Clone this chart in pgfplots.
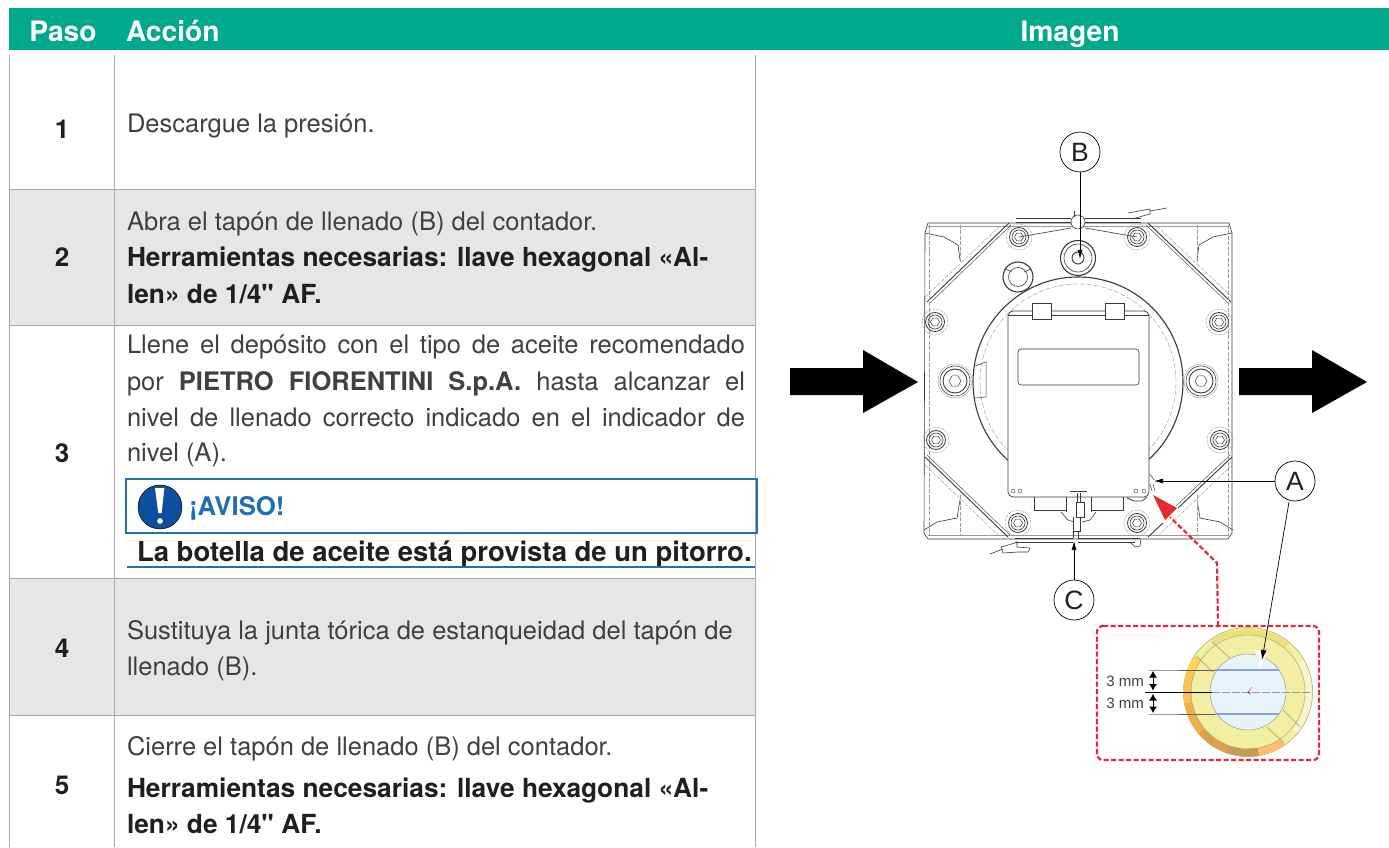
\documentclass[border=0pt]{standalone}
\usepackage{fontspec}
\setmainfont{TeX Gyre Heros}
\newfontfamily\arialf{Liberation Sans}
\newfontfamily\qf{TeX Gyre Heros}
\usepackage{pgfplots}
\pgfplotsset{compat=1.18}
\usetikzlibrary{arrows.meta}
\definecolor{hdr}{HTML}{00A88C}
\definecolor{rowg}{HTML}{E5E6E7}
\definecolor{rul}{HTML}{A9A9A9}
\definecolor{txt}{HTML}{404040}
\definecolor{txb}{HTML}{1F1F1F}
\definecolor{blu}{HTML}{1E70B4}
\definecolor{dblu}{HTML}{0D4F9E}
\definecolor{redd}{HTML}{E32B2E}
\definecolor{dr}{HTML}{3A3A3A}
\definecolor{dg}{HTML}{9A9A9A}
\definecolor{olv}{HTML}{ACAA7C}
\definecolor{ylb}{HTML}{F2EEA2}
\definecolor{yld}{HTML}{E8E27C}
\definecolor{yll}{HTML}{F7F5CC}
\definecolor{oa}{HTML}{FFD45E}
\definecolor{ob}{HTML}{FCC355}
\definecolor{oc}{HTML}{F2AE48}
\definecolor{od}{HTML}{DFA04A}
\definecolor{oe}{HTML}{C99A52}
\definecolor{of}{HTML}{FDBF6A}
\definecolor{cyn}{HTML}{E6F3F8}
\definecolor{bll}{HTML}{8C9FD6}
\pgfdeclareplotmark{hexa}{%
 \pgfpathmoveto{\pgfpointpolar{0}{\pgfplotmarksize}}%
 \pgfpathlineto{\pgfpointpolar{60}{\pgfplotmarksize}}%
 \pgfpathlineto{\pgfpointpolar{120}{\pgfplotmarksize}}%
 \pgfpathlineto{\pgfpointpolar{180}{\pgfplotmarksize}}%
 \pgfpathlineto{\pgfpointpolar{240}{\pgfplotmarksize}}%
 \pgfpathlineto{\pgfpointpolar{300}{\pgfplotmarksize}}%
 \pgfpathclose\pgfusepathqstroke}
\newcommand\Ln[2][]{\addplot[forget plot,mark=none,dr,line width=.6pt,#1] coordinates {#2};}
\newcommand\Dd[1]{\addplot[forget plot,mark=none,dg,line width=.4pt,dash pattern=on 4pt off 1.5pt] coordinates {#1};}
\newcommand\Pg[2]{\addplot[forget plot,mark=none,draw=none,fill=#1] coordinates {#2} --cycle;}
\newcommand\Ring[4][]{\addplot[forget plot,only marks,mark=o,mark size=#4pt,mark options={draw=dr,line width=.6pt,solid,#1}] coordinates {(#2,#3)};}
\newcommand\Disc[5][]{\addplot[forget plot,only marks,mark=*,mark size=#4pt,mark options={draw=dr,fill=#5,line width=.6pt,solid,#1}] coordinates {(#2,#3)};}
\newcommand\Hex[3]{\addplot[forget plot,only marks,mark=hexa,mark size=#3pt,mark options={draw=dr,line width=.5pt,solid}] coordinates {(#1,#2)};}
\newcommand\Bolt[2]{\Ring[draw=dg,line width=.4pt,dash pattern=on 3pt off 1pt]{#1}{#2}{13}\Ring[line width=.8pt]{#1}{#2}{9.5}\Ring{#1}{#2}{7}\Hex{#1}{#2}{4.5}}
\newcommand\Lug[2]{\Ring[draw=dg,line width=.4pt]{#1}{#2}{17}\Ring{#1}{#2}{15}\Ring[line width=.9pt]{#1}{#2}{12}\Hex{#1}{#2}{6}}
\newcommand\T[5][txt]{\node[anchor=base west,inner sep=0pt,outer sep=0pt,text=#1] at (axis cs:#2,#3) {\fontsize{#4}{#4}\selectfont #5};}
\newcommand\Tc[5][txt]{\node[anchor=base,inner sep=0pt,outer sep=0pt,text=#1] at (axis cs:#2,#3) {\fontsize{#4}{#4}\selectfont #5};}
\newcommand\J[2]{\node[anchor=base west,inner sep=0pt,outer sep=0pt,text=txt] at (axis cs:127,#1) {\fontsize{25.5}{25}\selectfont\hbox to 618pt{#2}};}
\begin{document}
\begin{tikzpicture}
\begin{axis}[scale only axis,width=1389pt,height=847pt,xmin=0,xmax=1389,ymin=0,ymax=847,y dir=reverse,hide axis,clip=false,clip marker paths=true]
% page background corners keep the bounding box
\addplot[forget plot,draw=none,mark=none,fill=white] coordinates {(0,0)(1389,0)(1389,847)(0,847)} --cycle;
% header
\Pg{hdr}{(9,8)(1389,8)(1389,50)(9,50)}
% shaded rows
\Pg{rowg}{(10,190)(755,190)(755,325)(10,325)}
\Pg{rowg}{(10,578)(755,578)(755,715)(10,715)}
% rules
\Ln[rul,line width=1pt]{(9.5,55)(9.5,847)}
\Ln[rul,line width=1pt]{(114.5,55)(114.5,847)}
\Ln[rul,line width=1pt]{(755,55)(755,847)}
\Ln[rul,line width=1pt]{(9,190)(755,190)}
\Ln[rul,line width=1pt]{(9,325)(755,325)}
\Ln[rul,line width=1pt]{(9,578)(755,578)}
\Ln[rul,line width=1pt]{(9,715)(755,715)}
% header text
\Tc[white]{63}{41.5}{28.2}{\textbf{Paso}}
\T[white]{126}{41.5}{28.2}{\textbf{Acción}}
\Tc[white]{1070}{41.5}{28.2}{\textbf{Imagen}}
% step numbers
\Tc[txb]{62}{139}{26}{\textbf{1}}
\Tc[txb]{62}{267}{26}{\textbf{2}}
\Tc[txb]{62}{462}{26}{\textbf{3}}
\Tc[txb]{62}{657}{26}{\textbf{4}}
\Tc[txb]{62}{794}{26}{\textbf{5}}
% body
\T{127}{133}{25.5}{Descargue la presión.}
\T{127}{231}{25.5}{Abra el tapón de llenado (B) del contador.}
\T[txb]{127}{267}{26.3}{\textbf{Herramientas necesarias: llave hexagonal «Al-}}
\T[txb]{127}{303}{26.3}{\textbf{len» de 1/4{\qf"} AF.}}
\J{353}{Llene el depósito con el tipo de aceite recomendado}
\J{390}{por \textbf{PIETRO FIORENTINI S.p.A.} hasta alcanzar el}
\J{426}{nivel de llenado correcto indicado en el indicador de}
\T{127}{461}{25.5}{nivel (A).}
% notice
\Ln[blu,line width=2pt]{(126,479)(757,479)(757,533)(126,533)(126,478)}
\Disc[draw=black,line width=.5pt]{160}{507}{22}{dblu}
\Pg{white}{(155,488)(164.3,488)(161.7,513)(158.3,513)}
\Disc[draw=white]{160}{521}{2.5}{white}
\T[blu]{189}{515}{25.7}{\textbf{¡AVISO!}}
\T[txb]{137}{561}{27.5}{\textbf{La botella de aceite está provista de un pitorro.}}
\Ln[blu,line width=2pt]{(127,567)(755,567)}
\T{127}{639}{25.5}{Sustituya la junta tórica de estanqueidad del tapón de}
\T{127}{675}{25.5}{llenado (B).}
\T{127}{755}{25.5}{Cierre el tapón de llenado (B) del contador.}
\T[txb]{127}{797}{26.3}{\textbf{Herramientas necesarias: llave hexagonal «Al-}}
\T[txb]{127}{833}{26.3}{\textbf{len» de 1/4{\qf"} AF.}}
% block arrows
\Pg{black}{(790,368)(863,368)(863,350)(918,382)(863,413)(863,395)(790,395)}
\Pg{black}{(1239,368)(1312,368)(1312,350)(1367,382)(1312,413)(1312,395)(1239,395)}
% meter body
\Ln{(925,233)(928,223)(1229,223)(1232,233)(1232,533)(1228,539)(928,539)(924,533)(925,233)}
\Ln[dg,line width=.5pt]{(928,226)(1229,226)}
\Ln[dg,line width=.5pt]{(928,535)(1229,535)}
\Ln{(925,233)(944,237)(958,245)(960,260)}
\Ln{(1232,233)(1213,237)(1199,245)(1197,260)}
\Ln{(924,530)(937,522)(957,518)(960,500)}
\Ln{(1233,530)(1220,522)(1200,518)(1197,500)}
\Ln[line width=.9pt]{(1009,223)(927,302)}
\Ln[line width=.9pt]{(1148,223)(1231,302)}
\Ln[line width=.9pt]{(925,457)(1008,537)}
\Ln[line width=.9pt]{(1232,457)(1178,508)}
\Ln[line width=.9pt]{(1163,523)(1148,537)}
\Ln[line width=.4pt]{(1011,225)(929,304)}
\Ln[line width=.4pt]{(1146,225)(1229,304)}
\Ln[line width=.4pt]{(927,455)(1010,535)}
\Ln[line width=.4pt]{(1230,455)(1176,506)}
\Dd{(1000,226)(925,297)}
\Dd{(1157,226)(1232,297)}
\Dd{(925,465)(998,535)}
\Dd{(1232,465)(1159,535)}
\Dd{(929,225)(929,535)}
\Dd{(1228,225)(1228,535)}
\Dd{(960,225)(960,262)}
\Dd{(1197,225)(1197,262)}
\Dd{(960,495)(960,535)}
\Dd{(1197,495)(1197,535)}
% big circle
\Ring[line width=1.1pt]{1078}{382}{105}
\Ring[draw=dg,line width=.4pt,dash pattern=on 5pt off 2pt]{1078}{382}{98}
% bolts
\Bolt{1019}{237}\Bolt{1137}{237}\Bolt{935}{322}\Bolt{1219}{322}
\Bolt{936}{440}\Bolt{1220}{440}\Bolt{1018}{523}\Bolt{1137}{523}
\Lug{955}{381}\Lug{1201}{381}
% wire on top
\Disc{1078}{222}{7}{white}
\Ln[line width=.9pt]{(1016,218)(1071,218)}
\Ln{(1016,222)(1071,222)}
\Ln[line width=.9pt]{(1085,218)(1141,218)}
\Ln{(1085,222)(1141,222)}
\Ln{(1019,237)(1071,228)}
\Ln{(1137,237)(1085,228)}
\Ln{(1128,213)(1150,209)(1150,214)(1132,219)}
\Ln{(1150,211)(1167,208)}
\Ln[line width=.5pt]{(1074,217)(1074,211)}
% filler plug
\Disc[line width=1.1pt]{1078}{258}{17.5}{white}
\Ring{1078}{258}{14}
\Ring[line width=.9pt]{1078}{258}{6}
\Disc[line width=1.1pt]{1018}{277}{15}{white}
\Ring{1018}{277}{9.5}
\Ln{(1005,269)(1012,272)}
\Ln{(1024,272)(1031,269)}
% small label plate on left of circle
\Ln[line width=.5pt]{(986,362)(975,366)}
\Ln[line width=.5pt]{(986,362)(986,397)(975,398)}
% plate
\addplot[forget plot,mark=none,draw=dr,fill=white,line width=.7pt,rounded corners=5pt] coordinates {(1008,311)(1149,311)(1149,497)(1008,497)} --cycle;
\Ln{(1008,315)(1149,315)}
\Pg{white}{(1032,303)(1051,303)(1051,319)(1032,319)}
\Pg{white}{(1105,303)(1124,303)(1124,319)(1105,319)}
\Ln{(1032,319)(1032,303)(1051,303)(1051,319)(1032,319)}
\Ln{(1105,319)(1105,303)(1124,303)(1124,319)(1105,319)}
\addplot[forget plot,mark=none,draw=dr,line width=.6pt,rounded corners=3pt] coordinates {(1018,349)(1139,349)(1139,385)(1018,385)} --cycle;
\Ring[line width=.4pt]{1013}{491}{2}\Ring[line width=.4pt]{1020}{491}{2}
\Ring[line width=.4pt]{1136}{491}{2}\Ring[line width=.4pt]{1144}{491}{2}
% gauge glimpse
\Ln[line width=.5pt]{(1150,474)(1154,480)}
\Ln[line width=.5pt]{(1150,484)(1152,491)}
\Ln[line width=.5pt]{(1153,484)(1155,491)}
\Ln[line width=.8pt]{(1127,498)(1134,501)(1142,501)(1147,497)}
% below plate
\Ln{(1034,497)(1034,510)(1066,510)}
\Ln{(1123,497)(1123,510)(1091,510)}
\Ln{(1066,497)(1066,512)}
\Ln{(1091,497)(1091,512)}
\Ln{(1061,512)(1068,520)(1074,522)}
\Ln{(1096,512)(1090,520)(1082,522)}
\Ln[line width=1pt]{(1070,491)(1087,491)}
\Ln{(1077,493)(1077,502)}
\Ln{(1080,493)(1080,502)}
\Pg{white}{(1076,502)(1084,502)(1084,517)(1076,517)}
\Ln{(1076,502)(1084,502)(1084,517)(1076,517)(1076,502)}
\Ln{(1073,517)(1073,531)(1080,531)(1080,517)}
\Ln{(1073,531)(1073,538)}
\Ln{(1078,531)(1078,538)}
% bottom wire
\Ln[line width=.9pt]{(1015,538)(1073,538)}
\Ln{(1015,542)(1073,542)}
\Ln[line width=.9pt]{(1078,538)(1140,538)}
\Ln{(1078,542)(1135,542)}
\Ln{(1017,541)(1017,547)(1030,548)(1028,552)(1018,552)(1003,553)(1001,547)(1015,543)}
\Ln{(1003,549)(990,554)}
\Ln{(1130,542)(1135,547)(1140,546)(1141,539)}
% leaders
\Ln[black,line width=.7pt,-{Latex[length=9pt,width=5pt]}]{(1080,172)(1080,259)}
\Ln[black,line width=.7pt,-{Latex[length=9pt,width=5pt]}]{(1275,481)(1154,481)}
\Ln[black,line width=.7pt,-{Latex[length=9pt,width=5pt]}]{(1074,580)(1074,541)}
\Disc[draw=black,line width=.7pt]{1080}{152}{20}{white}
\Disc[draw=black,line width=.7pt]{1295}{481}{20}{white}
\Disc[draw=black,line width=.7pt]{1074}{600}{20}{white}
\Tc[txb]{1080}{161.5}{26.5}{\arialf B}
\Tc[txb]{1295}{490.5}{26.5}{\arialf A}
\Tc[txb]{1074}{609.5}{26.5}{\arialf C}
% red callout
\Pg{redd}{(1153,495)(1177,508)(1165,520)}
\Ln[redd,line width=2.2pt,dash pattern=on 5pt off 2.5pt]{(1218,626)(1217,563)(1170,517)}
\addplot[forget plot,mark=none,draw=redd,line width=2.2pt,dash pattern=on 5pt off 2.5pt,rounded corners=6pt] coordinates {(1097,626)(1319,626)(1319,760)(1097,760)} --cycle;
% gauge ring
\Disc[draw=olv,line width=.5pt]{1248}{692}{64.6}{ylb}
\Pg{yld}{(1211.3,639.6)(1226.1,631.8)(1248,628)(1269.9,631.8)(1289.2,643)(1285.3,647.6)(1267.8,637.5)(1248,634)(1228.2,637.5)(1214.7,644.5)}
\Pg{yll}{(1303.4,660)(1309.8,675.4)(1312,692)(1309.8,708.6)(1303.4,724)(1297,733)(1292.4,729)(1298.2,721)(1304,707)(1306,692)(1304,677)(1298.2,663)}
\Pg{oa}{(1194.8,654.7)(1186.9,669.8)(1194.4,672.5)(1201.3,659.3)}
\Pg{ob}{(1186.9,669.8)(1183.3,686.3)(1184,703.3)(1191.9,701.9)(1191.2,687)(1194.4,672.5)}
\Pg{oc}{(1184,703.3)(1189.1,719.5)(1198.2,733.8)(1204.3,728.7)(1196.4,716.1)(1191.9,701.9)}
\Pg{od}{(1198.2,733.8)(1210.7,745.2)(1225.8,753.1)(1228.5,745.6)(1215.3,738.7)(1204.3,728.7)}
\Pg{oe}{(1225.8,753.1)(1242.3,756.7)(1259.3,756)(1257.9,748.1)(1243,748.8)(1228.5,745.6)}
\Pg{of}{(1259.3,756)(1275.5,750.9)(1285.3,745.2)(1280.7,738.7)(1272.1,743.6)(1257.9,748.1)}
\Ring[draw=olv,line width=.5pt]{1248}{692}{57}
% ring slots
\Ln[olv,line width=.7pt]{(1212,642)(1230,658)}
\Ln[olv,line width=.7pt]{(1197,657)(1213,672)}
\Ln[olv,line width=.7pt]{(1267,727)(1284,743)}
\Ln[olv,line width=.7pt]{(1283,710)(1300,727)}
% gauge centre
\Disc[draw=dg,line width=.5pt]{1248}{692}{38}{cyn}
\Ln[dg,line width=.4pt,dash pattern=on 8pt off 2pt]{(1212,692)(1312,692)}
\Ln[bll,line width=1.2pt]{(1215,670)(1279,670)}
\Ln[bll,line width=1.2pt]{(1215,714)(1279,714)}
\Ln[dg,line width=.7pt]{(1149,670)(1179,670)}
\Ln[dg,line width=.7pt]{(1149,714)(1179,714)}
\Ln[dr!80!white,line width=.9pt]{(1179,670)(1215,670)}
\Ln[dr!80!white,line width=.9pt]{(1179,714)(1215,714)}
\Ln[black,line width=.8pt]{(1145,692)(1212,692)}
\Ln[black,line width=1pt,{Latex[length=6.5pt,width=8pt]}-{Latex[length=6.5pt,width=8pt]}]{(1153,671)(1153,690.5)}
\Ln[black,line width=1pt,{Latex[length=6.5pt,width=8pt]}-{Latex[length=6.5pt,width=8pt]}]{(1153,694)(1153,713)}
\Ln[redd,line width=.4pt]{(1248,692)(1252,687)}
\Ln[blue,line width=.4pt]{(1248,692)(1250,694)}
\node[anchor=base east,inner sep=0pt,text=txt] at (axis cs:1144,686) {\fontsize{15}{15}\selectfont\arialf 3 mm};
\node[anchor=base east,inner sep=0pt,text=txt] at (axis cs:1144,708.5) {\fontsize{15}{15}\selectfont\arialf 3 mm};
% A leader to gauge
\Pg{white}{(1255,650)(1268,650)(1260,669)}
\Ln[black,line width=.7pt,-{Latex[length=10pt,width=6pt]}]{(1289,502)(1262,660)}
\end{axis}
\end{tikzpicture}
\end{document}
